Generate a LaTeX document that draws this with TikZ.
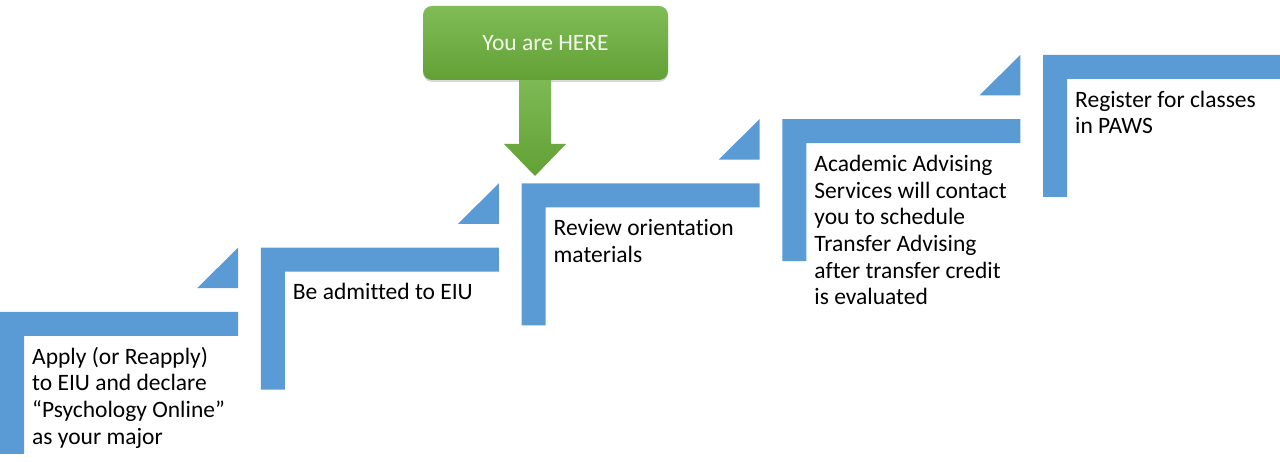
\documentclass[tikz,border=0pt]{standalone}
\usepackage{fontspec}
\setmainfont{Carlito}[Ligatures=CommonOff]
\usepackage{xcolor}
\usepackage{tikz}
\usetikzlibrary{positioning,calc,arrows.meta,shadows}

\definecolor{stairblue}{HTML}{5B9BD5}
\definecolor{heretop}{HTML}{80BC57}
\definecolor{herebot}{HTML}{62A136}
\definecolor{heretext}{HTML}{F2F8EC}

\begin{document}
\begin{tikzpicture}[x=1pt, y=1pt,
	stair/.style={fill=stairblue, draw=none},
	stairtext/.style={anchor=north west, align=left, inner sep=0, font=\fontsize{23.5}{26.7}\selectfont}]
	\useasboundingbox (0,0) rectangle (1280,462);

	% the five stairs
	\fill[stair] (0,150) -- ++(238,0) -- ++(0,-24) -- ++(-214,0) -- ++(0,-118) -- ++(-24,0) -- cycle;
	\fill[stair] (260.75,214.25) -- ++(238,0) -- ++(0,-24) -- ++(-214,0) -- ++(0,-118) -- ++(-24,0) -- cycle;
	\fill[stair] (521.5,278.5) -- ++(238,0) -- ++(0,-24) -- ++(-214,0) -- ++(0,-118) -- ++(-24,0) -- cycle;
	\fill[stair] (782.25,342.75) -- ++(238,0) -- ++(0,-24) -- ++(-214,0) -- ++(0,-118) -- ++(-24,0) -- cycle;
	\fill[stair] (1043,407) -- ++(240,0) -- ++(0,-24) -- ++(-216,0) -- ++(0,-118) -- ++(-24,0) -- cycle;

	% little wedges between the stairs
	\fill[stair] (238,214.25) -- ++(0,-40.5) -- ++(-41,0) -- cycle;
	\fill[stair] (498.75,278.5) -- ++(0,-40.5) -- ++(-41,0) -- cycle;
	\fill[stair] (759.5,342.75) -- ++(0,-40.5) -- ++(-41,0) -- cycle;
	\fill[stair] (1020.25,407) -- ++(0,-40.5) -- ++(-41,0) -- cycle;

	\node[stairtext] (apply) at (32,116.7) {\strut Apply (or Reapply)\\to EIU and declare\\“Psychology Online”\\as your major};
	\node[stairtext] (admit) at (292.75,180.95) {\strut Be admitted to EIU};
	\node[stairtext] (review) at (553.5,245.2) {\strut Review orientation\\materials};
	\node[stairtext] (advise) at (814.25,309.45) {\strut Academic Advising\\Services will contact\\you to schedule\\Transfer Advising\\after transfer credit\\is evaluated};
	\node[stairtext] (register) at (1075,373.7) {\strut Register for classes\\in PAWS};

	% you are here
	\node[rounded corners=9pt, top color=heretop, bottom color=herebot, minimum width=245pt, minimum height=74pt,
		drop shadow={opacity=0.3, shadow xshift=0pt, shadow yshift=-2pt}, text=heretext,
		font=\fontsize{23.5}{26}\selectfont] (here) at (545.5,419) {You are HERE};
	\coordinate (tip) at (535,286);
	\shade[top color=heretop!90!herebot, bottom color=herebot] ($(here.south -| tip)+(-16,0)$) -- ($(tip)+(-16,32)$) -- ($(tip)+(-31,32)$) -- (tip)
		-- ($(tip)+(31,32)$) -- ($(tip)+(16,32)$) -- ($(here.south -| tip)+(16,0)$) -- cycle;
\end{tikzpicture}
\end{document}
